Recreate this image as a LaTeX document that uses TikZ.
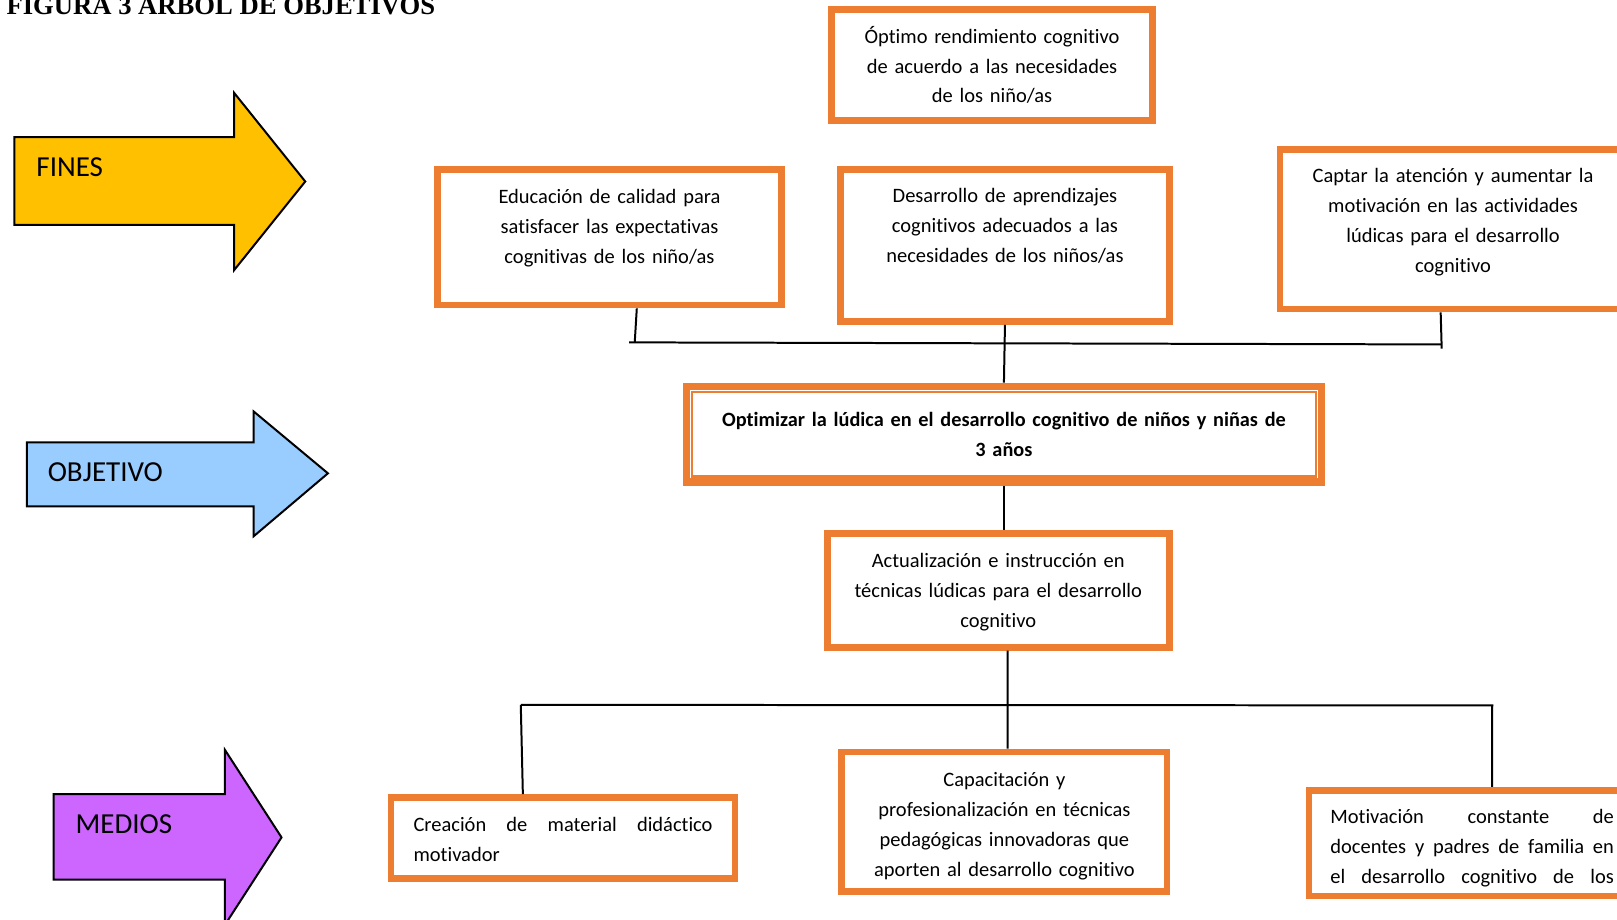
\documentclass[tikz,border=0pt]{standalone}
\usepackage{fontspec}
\setmainfont{Carlito}[Ligatures=NoCommon]
\newfontfamily\titulofont{Liberation Serif}
\usepackage{tikz}
\usetikzlibrary{positioning,calc}
\definecolor{naranja}{HTML}{ED7D31}
\definecolor{amarillo}{HTML}{FFC000}
\definecolor{celeste}{HTML}{99CCFF}
\definecolor{lila}{HTML}{CC66FF}
\tikzset{
  caja/.style={
    draw=naranja,
    line width=0.13cm,
    align=center,
    inner sep=0pt,
    font=\fontsize{11.3}{16.5}\selectfont
  },
  relleno/.style={
    execute at end node={\par\vspace*{#1}}
  },
  flecha/.style={
    draw=black,
    line width=1.1pt
  },
  etiqueta/.style={
    anchor=west,
    inner sep=0pt,
    font=\fontsize{16}{19}\selectfont
  },
  linea/.style={
    draw=black,
    line width=1.1pt
  }
}

\begin{document}
\begin{tikzpicture}[x=0.02cm, y=-0.02cm]
   \useasboundingbox (0,0) rectangle (1568,892);

   % titulo
   \node[anchor=base west, inner sep=0pt, font=\titulofont\bfseries\fontsize{14.7}{17}\selectfont] (titulo) at (6,14.5) {FIGURA 3 ARBOL DE OBJETIVOS};

   % flechas
   \draw[flecha, fill=amarillo] (14,133) -- (227,133) -- (227,90) -- (296,176) -- (227,262) -- (227,218) -- (14,218) -- cycle;
   \draw[flecha, fill=celeste] (26,429) -- (246,429) -- (246,399) -- (318,459) -- (246,520) -- (246,491) -- (26,491) -- cycle;
   \draw[flecha, fill=lila] (52,770) -- (218,770) -- (218,727) -- (273,812) -- (218,897) -- (218,853) -- (52,853) -- cycle;
   \node[etiqueta] (fines) at (35,162) {FINES};
   \node[etiqueta] (objetivo) at (46,458) {OBJETIVO};
   \node[etiqueta] (medios) at (73,799) {MEDIOS};

   % fines
   \node[caja, text width=6cm, minimum width=6.23cm, minimum height=2.15cm] (optimo) at (962,63) {Óptimo rendimiento cognitivo\\de acuerdo a las necesidades\\de los niño/as};
   \node[caja, relleno=0.36cm, text width=6.4cm, minimum width=6.67cm, minimum height=2.63cm] (fin1) at (591,230) {Educación de calidad para\\satisfacer las expectativas\\cognitivas de los niño/as};
   \node[caja, relleno=0.76cm, text width=6.1cm, minimum width=6.37cm, minimum height=2.95cm] (fin2) at (974.5,238) {Desarrollo de aprendizajes\\cognitivos adecuados a las\\necesidades de los niños/as};
   \node[caja, relleno=0.28cm, text width=6.4cm, minimum width=6.71cm, minimum height=3.09cm] (fin3) at (1409,222.5) {Captar la atención y aumentar la\\motivación en las actividades\\lúdicas para el desarrollo\\cognitivo};

   % objetivo
   \node[caja, line width=0.14cm, font=\fontsize{11.2}{16.5}\selectfont\bfseries, text width=12cm, minimum width=12.32cm, minimum height=1.86cm] (obj) at (973.5,421) {Optimizar la lúdica en el desarrollo cognitivo de niños y niñas de\\3 años};
   \draw[naranja, line width=0.05cm] ([shift={(0.18cm,-0.18cm)}]obj.north west) rectangle ([shift={(-0.18cm,0.18cm)}]obj.south east);

   % medios
   \node[caja, relleno=-0.08cm, text width=6.4cm, minimum width=6.63cm, minimum height=2.21cm] (act) at (968,572.5) {Actualización e instrucción en\\técnicas lúdicas para el desarrollo\\cognitivo};
   \node[caja, relleno=-0.06cm, align=left, text width=5.8cm, minimum width=6.67cm, minimum height=1.57cm] (medio1) at (546,812.5) {\makebox[5.8cm][s]{Creación\hfill de\hfill material\hfill didáctico}\\motivador};
   \node[caja, relleno=-0.16cm, text width=6.1cm, minimum width=6.31cm, minimum height=2.71cm] (medio2) at (974,797) {Capacitación y\\profesionalización en técnicas\\pedagógicas innovadoras que\\aporten al desarrollo cognitivo};
   \node[caja, relleno=-0.2cm, align=left, text width=5.5cm, minimum width=6.33cm, minimum height=2.05cm] (medio3) at (1427.5,817.5) {\makebox[5.5cm][s]{Motivación\hfill constante\hfill de}\\\makebox[5.5cm][s]{docentes\hfill y\hfill padres\hfill de\hfill familia\hfill en}\\\makebox[5.5cm][s]{el\hfill desarrollo\hfill cognitivo\hfill de\hfill los}};

   % lineas
   \coordinate (fi) at (610,332);
   \coordinate (fa) at (615.5,332);
   \coordinate (fd) at (1398,334);
   \coordinate (fc) at (1398,338);
   \coordinate (mi) at (505,683.5);
   \coordinate (md) at (1448,684);
   \coordinate (mc) at (1447,684);

   \draw[linea] ([xshift=0.53cm]fin1.south) -- (fa);
   \draw[linea] (fi) -- (fd);
   \draw[linea] (fin2.south) -- (obj.north);
   \draw[linea] ([xshift=-0.24cm]fin3.south) -- (fc);
   \draw[linea] (obj.south) -- (obj.south |- act.north);
   \draw[linea] ([xshift=0.18cm]act.south) -- ([xshift=0.06cm]medio2.north);
   \draw[linea] (mi) -- (md);
   \draw[linea] (mi) -- ([xshift=-0.78cm]medio1.north);
   \draw[linea] (mc) -- ([xshift=0.39cm]medio3.north);
\end{tikzpicture}
\end{document}
